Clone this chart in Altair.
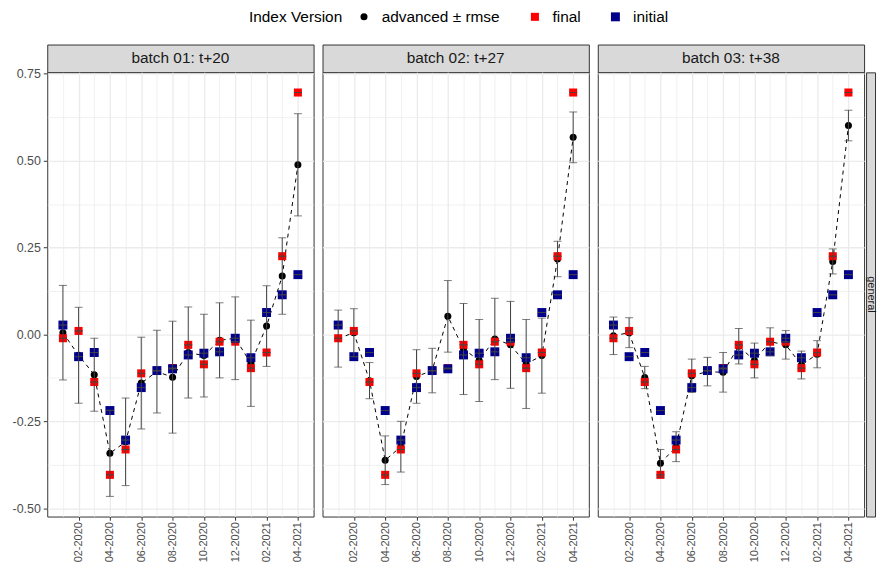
import json
import altair as alt
import pandas as pd

# ---------------- data ----------------
months = ["01-2020", "02-2020", "03-2020", "04-2020", "05-2020", "06-2020",
          "07-2020", "08-2020", "09-2020", "10-2020", "11-2020", "12-2020",
          "01-2021", "02-2021", "03-2021", "04-2021"]
batch_labels = ["batch 01: t+20", "batch 02: t+27", "batch 03: t+38"]
row_label = "general"
legend_title = "Index Version"
series_names = ["advanced \u00b1 rmse", "final", "initial"]
series_colors = ["#000000", "#FF0000", "#00008B"]
series_shapes = ["circle", "square", "square"]
series_sizes = [50, 81, 81]

initial = [0.027, -0.064, -0.052, -0.219, -0.304, -0.153, -0.104, -0.099,
           -0.059, -0.054, -0.050, -0.011, -0.067, 0.063, 0.114, 0.172]
final = [-0.011, 0.010, -0.137, -0.404, -0.331, -0.112, -0.105, -0.097,
         -0.030, -0.086, -0.021, -0.021, -0.097, -0.052, 0.225, 0.696]

advanced_b1 = [0.005, -0.060, -0.116, -0.342, -0.309, -0.140, -0.107, -0.123,
               -0.052, -0.061, -0.017, -0.011, -0.083, 0.024, 0.168, 0.488]
rmse_b1 = [0.136, 0.138, 0.105, 0.124, 0.126, 0.132, 0.119, 0.161,
           0.131, 0.119, 0.108, 0.119, 0.124, 0.116, 0.110, 0.147]

advanced_b2 = [-0.012, 0.005, -0.133, -0.362, -0.323, -0.121, -0.104, 0.052,
               -0.042, -0.075, -0.013, -0.030, -0.085, -0.061, 0.217, 0.567]
rmse_b2 = [0.082, 0.069, 0.052, 0.070, 0.073, 0.077, 0.064, 0.103,
           0.131, 0.118, 0.117, 0.125, 0.128, 0.108, 0.051, 0.073]

advanced_b3 = [-0.004, 0.005, -0.124, -0.371, -0.323, -0.119, -0.107, -0.109,
               -0.034, -0.075, -0.021, -0.030, -0.088, -0.057, 0.210, 0.601]
rmse_b3 = [0.054, 0.043, 0.032, 0.040, 0.043, 0.048, 0.041, 0.057,
           0.051, 0.050, 0.040, 0.041, 0.040, 0.039, 0.036, 0.044]

advanced_all = [advanced_b1, advanced_b2, advanced_b3]
rmse_all = [rmse_b1, rmse_b2, rmse_b3]

y_major = [-0.5, -0.25, 0.0, 0.25, 0.5, 0.75]
y_major_labels = ["-0.50", "-0.25", "0.00", "0.25", "0.50", "0.75"]
y_minor = [-0.375, -0.125, 0.125, 0.375, 0.625]
y_domain = [-0.524, 0.754]
x_domain = [-1, 16]

# ---------------- styling ----------------
FONT = "Liberation Sans"
W, H = 268, 447
STRIP_H = 28
RSTRIP_W = 9
GRID = "#EBEBEB"
STRIP_FILL = "#D9D9D9"
BORDER = "#333333"
ERR = "#444444"


def build_df(adv, rm):
    rows = []
    for i, m in enumerate(months):
        rows.append(dict(idx=i, month=m, series=series_names[0], value=adv[i],
                         lo=adv[i] - rm[i], hi=adv[i] + rm[i], rmse=rm[i]))
    for i, m in enumerate(months):
        rows.append(dict(idx=i, month=m, series=series_names[1], value=final[i],
                         lo=final[i], hi=final[i], rmse=0.0))
    for i, m in enumerate(months):
        rows.append(dict(idx=i, month=m, series=series_names[2], value=initial[i],
                         lo=initial[i], hi=initial[i], rmse=0.0))
    return pd.DataFrame(rows)


x_major_test = "datum.value % 2 == 1"
y_vals = sorted(y_major + y_minor)
y_major_test = "indexof(%s, datum.value) >= 0" % json.dumps(y_major)

x_axis = alt.Axis(
    values=list(range(len(months))),
    labelExpr="%s ? %s[datum.value] : ''" % (x_major_test, json.dumps(months)),
    labelAngle=270, labelAlign="right", labelBaseline="middle",
    labelFontSize=11, labelColor="#4D4D4D", labelPadding=1.5, labelOverlap=False,
    tickColor=BORDER, tickSize=3.7, tickWidth=1,
    tickOpacity={"condition": {"test": x_major_test, "value": 1}, "value": 0},
    grid=True, gridColor=GRID,
    gridWidth={"condition": {"test": x_major_test, "value": 1.3}, "value": 0.7},
    domain=False, title=None,
)


def y_axis(show):
    common = dict(
        values=y_vals, grid=True, gridColor=GRID,
        gridWidth={"condition": {"test": y_major_test, "value": 1.3}, "value": 0.7},
        domain=False, title=None,
    )
    if show:
        return alt.Axis(
            labelExpr="%s ? %s[indexof(%s, datum.value)] : ''" % (
                y_major_test, json.dumps(y_major_labels), json.dumps(y_major)),
            labelFontSize=12.5, labelColor="#4D4D4D", labelPadding=3, labelOverlap=False,
            tickColor=BORDER, tickSize=4, tickWidth=1,
            tickOpacity={"condition": {"test": y_major_test, "value": 1}, "value": 0},
            **common)
    return alt.Axis(labels=False, ticks=False, **common)


legend = alt.Legend(
    title=legend_title, orient="none", legendX=203, legendY=-36,
    direction="horizontal", titleOrient="left", titleFontSize=15.5,
    titleFontWeight="normal", titleColor="#000000", titlePadding=14,
    labelFontSize=15.5, labelColor="#000000", labelOffset=10,
    columnPadding=27, symbolSize=81, symbolStrokeWidth=0,
)


def panel(k):
    df = build_df(advanced_all[k], rmse_all[k])
    base = alt.Chart(df)
    x = alt.X("idx:Q", scale=alt.Scale(domain=x_domain, nice=False, zero=False), axis=x_axis)
    y = alt.Y("value:Q", scale=alt.Scale(domain=y_domain, nice=False, zero=False),
              axis=y_axis(k == 0))
    line = base.transform_filter(alt.datum.series == series_names[0]).mark_line(
        color="#000000", strokeDash=[4, 4], strokeWidth=1).encode(x=x, y=y)
    pts = base.mark_point(filled=True, opacity=1).encode(
        x=x, y=y,
        color=alt.Color("series:N", scale=alt.Scale(domain=series_names, range=series_colors),
                        legend=legend),
        shape=alt.Shape("series:N", scale=alt.Scale(domain=series_names, range=series_shapes),
                        legend=legend),
        size=alt.Size("series:N", scale=alt.Scale(domain=series_names, range=series_sizes),
                      legend=None),
    )
    rules = base.transform_filter(alt.datum.rmse > 0).mark_rule(
        color=ERR, strokeWidth=1).encode(x=x, y=alt.Y("lo:Q"), y2="hi:Q")
    cap_lo = base.mark_tick(orient="horizontal", size=8, thickness=1, color=ERR).encode(
        x=x, y=alt.Y("lo:Q"))
    cap_hi = base.mark_tick(orient="horizontal", size=8, thickness=1, color=ERR).encode(
        x=x, y=alt.Y("hi:Q"))
    plot = alt.layer(line, pts, rules, cap_lo, cap_hi).properties(width=W, height=H)

    strip = alt.Chart(pd.DataFrame({"label": [batch_labels[k]]})).mark_text(
        font=FONT, fontSize=15.5, color="#1A1A1A", baseline="middle", align="center"
    ).encode(text="label:N", x=alt.value(W / 2), y=alt.value(STRIP_H / 2)).properties(
        width=W, height=STRIP_H,
        view=alt.ViewBackground(fill=STRIP_FILL, stroke=BORDER, strokeWidth=1))
    if k == 2:
        rstrip = alt.Chart(pd.DataFrame({"label": [row_label]})).mark_text(
            font=FONT, fontSize=11, color="#1A1A1A", baseline="middle", align="center", angle=90
        ).encode(text="label:N", x=alt.value(RSTRIP_W / 2 + 0.3), y=alt.value(H / 2)).properties(
            width=RSTRIP_W, height=H,
            view=alt.ViewBackground(fill=STRIP_FILL, stroke=BORDER, strokeWidth=1))
        return alt.vconcat(strip, alt.hconcat(plot, rstrip, spacing=0), spacing=0, bounds="flush")
    return alt.vconcat(strip, plot, spacing=0, bounds="flush")


chart = alt.hconcat(panel(0), panel(1), panel(2), spacing=7).resolve_scale(
    color="shared", shape="shared", size="shared"
).properties(
    padding={"left": 3.5, "top": -1, "right": 0, "bottom": 0}
).configure(font=FONT).configure_view(stroke=BORDER, strokeWidth=1)

chart.save("out.html", embed_options={"renderer": "svg", "actions": False})
